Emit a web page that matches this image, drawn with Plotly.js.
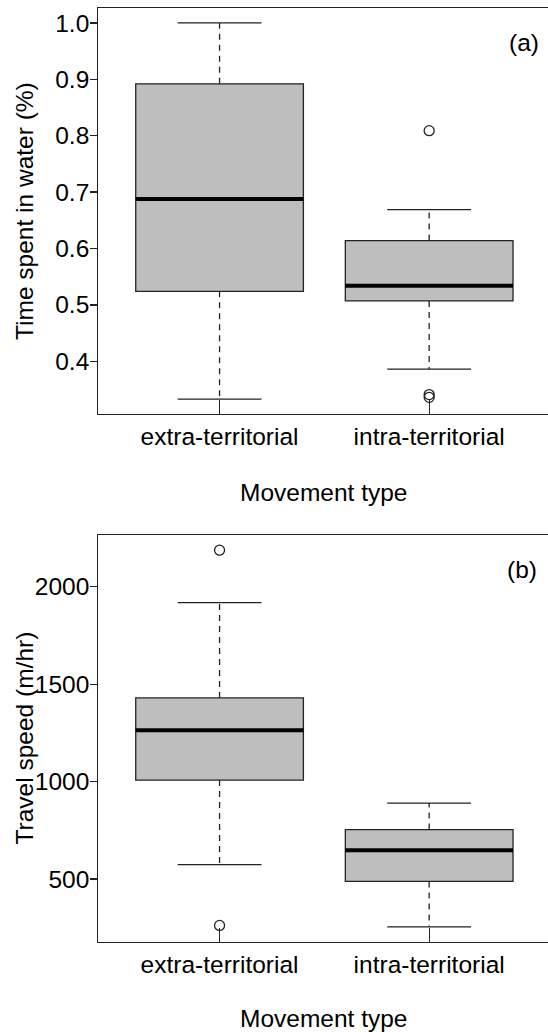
<!DOCTYPE html>
<html>
<head>
<meta charset="utf-8">
<script src="https://cdn.plot.ly/plotly-3.0.1.min.js"></script>
<style>html,body{margin:0;padding:0;background:#fff;}#chart{width:548px;height:1032px;}</style>
</head>
<body>
<div id="chart"></div>
<script>
// ---- data ----
var categories = ['extra-territorial', 'intra-territorial'];
var positions = [1, 2];

// Panel (a): time spent in water
var waterLowerWhisker = [0.333, 0.386];
var waterQ1 = [0.524, 0.507];
var waterMedian = [0.688, 0.534];
var waterQ3 = [0.892, 0.614];
var waterUpperWhisker = [1.000, 0.669];
var waterOutlierCat = [2, 2, 2];
var waterOutlierVal = [0.809, 0.341, 0.336];
var waterTicks = [0.4, 0.5, 0.6, 0.7, 0.8, 0.9, 1.0];

// Panel (b): travel speed
var speedLowerWhisker = [574, 255];
var speedQ1 = [1008, 488];
var speedMedian = [1264, 648];
var speedQ3 = [1430, 754];
var speedUpperWhisker = [1919, 890];
var speedOutlierCat = [1, 1];
var speedOutlierVal = [2188, 262];
var speedTicks = [500, 1000, 1500, 2000];

// ---- style ----
var W = 548, H = 1032;
var FONT = 'Liberation Sans, Arial, Helvetica, sans-serif';
var FS = 24.5;
var INK = '#222222';
var BOXW = 0.8, CAPH = 0.2;

function px(v){ return v / W; }
function py(v){ return 1 - v / H; }

function panelTraces(xa, ya, lw, q1, med, q3, uw, oc, ov) {
  var tr = [];
  tr.push({
    type: 'box', xaxis: xa, yaxis: ya, x: positions,
    q1: q1, median: med, q3: q3, lowerfence: q1, upperfence: q3,
    width: BOXW, whiskerwidth: 0, boxpoints: false,
    fillcolor: '#bebebe', line: {color: INK, width: 1.3}, hoverinfo: 'skip'
  });
  var wx = [], wy = [], cx = [], cy = [], mx = [], my = [];
  for (var i = 0; i < positions.length; i++) {
    var p = positions[i];
    wx.push(p, p, null, p, p, null);
    wy.push(q3[i], uw[i], null, q1[i], lw[i], null);
    cx.push(p - CAPH, p + CAPH, null, p - CAPH, p + CAPH, null);
    cy.push(uw[i], uw[i], null, lw[i], lw[i], null);
    mx.push(p - BOXW / 2, p + BOXW / 2, null);
    my.push(med[i], med[i], null);
  }
  tr.push({type: 'scatter', mode: 'lines', xaxis: xa, yaxis: ya, x: wx, y: wy,
    line: {color: INK, width: 1.3, dash: '6px,5px'}, hoverinfo: 'skip'});
  tr.push({type: 'scatter', mode: 'lines', xaxis: xa, yaxis: ya, x: cx, y: cy,
    line: {color: INK, width: 1.3}, hoverinfo: 'skip'});
  tr.push({type: 'scatter', mode: 'lines', xaxis: xa, yaxis: ya, x: mx, y: my,
    line: {color: '#000000', width: 4}, hoverinfo: 'skip'});
  tr.push({type: 'scatter', mode: 'markers', xaxis: xa, yaxis: ya, x: oc, y: ov,
    marker: {symbol: 'circle-open', size: 10, color: INK, line: {width: 1.3, color: INK}},
    hoverinfo: 'skip'});
  return tr;
}

var data = [].concat(
  panelTraces('x', 'y', waterLowerWhisker, waterQ1, waterMedian, waterQ3, waterUpperWhisker, waterOutlierCat, waterOutlierVal),
  panelTraces('x2', 'y2', speedLowerWhisker, speedQ1, speedMedian, speedQ3, speedUpperWhisker, speedOutlierCat, speedOutlierVal)
);

function xAxis(anchor) {
  return {
    anchor: anchor, domain: [98 / W, 1], range: [0.42, 2.567],
    tickmode: 'array', tickvals: positions, ticktext: categories,
    ticks: 'inside', ticklen: 14, tickwidth: 1.3, tickcolor: INK,
    showline: true, linecolor: INK, linewidth: 1.3, mirror: true,
    showgrid: false, zeroline: false, fixedrange: true,
    tickfont: {family: FONT, size: FS, color: '#000'}
  };
}
function yAxis(anchor, dom, rng, ticks, fmt) {
  return {
    anchor: anchor, domain: dom, range: rng,
    tickmode: 'array', tickvals: ticks, tickformat: fmt,
    ticks: 'outside', ticklen: 6.5, tickwidth: 1.3, tickcolor: INK,
    ticklabelstandoff: -4,
    showline: true, linecolor: INK, linewidth: 1.3, mirror: false,
    showgrid: false, zeroline: false, fixedrange: true,
    tickfont: {family: FONT, size: FS, color: '#000'}
  };
}

var annFont = {family: FONT, size: FS, color: '#000'};
var layout = {
  width: W, height: H,
  margin: {l: 0, r: 0, t: 0, b: 0},
  paper_bgcolor: '#fff', plot_bgcolor: '#fff',
  showlegend: false,
  xaxis: xAxis('y'),
  yaxis: yAxis('x', [py(414), py(8)], [0.3065, 1.0265], waterTicks, '.1f'),
  xaxis2: xAxis('y2'),
  yaxis2: yAxis('x2', [py(942), py(535)], [177, 2266], speedTicks, 'd'),
  annotations: [
    {text: 'Time spent in water (%)', xref: 'paper', yref: 'paper', x: px(24), y: py(211),
     xanchor: 'center', yanchor: 'middle', textangle: -90, showarrow: false, font: annFont},
    {text: 'Travel speed (m/hr)', xref: 'paper', yref: 'paper', x: px(24), y: py(738.5),
     xanchor: 'center', yanchor: 'middle', textangle: -90, showarrow: false, font: annFont},
    {text: 'Movement type', xref: 'paper', yref: 'paper', x: px(324), y: py(493),
     xanchor: 'center', yanchor: 'middle', showarrow: false, font: annFont},
    {text: 'Movement type', xref: 'paper', yref: 'paper', x: px(324), y: py(1018),
     xanchor: 'center', yanchor: 'middle', showarrow: false, font: annFont},
    {text: '(a)', xref: 'paper', yref: 'paper', x: px(541), y: py(43),
     xanchor: 'right', yanchor: 'middle', showarrow: false, font: annFont},
    {text: '(b)', xref: 'paper', yref: 'paper', x: px(539), y: py(569),
     xanchor: 'right', yanchor: 'middle', showarrow: false, font: annFont}
  ]
};

Plotly.newPlot('chart', data, layout, {staticPlot: true, displayModeBar: false});
</script>
</body>
</html>
